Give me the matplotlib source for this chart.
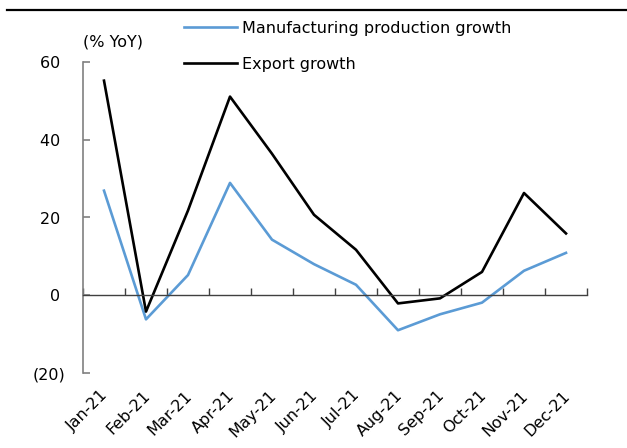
import matplotlib
matplotlib.use("Agg")
import matplotlib.pyplot as plt
from matplotlib.lines import Line2D
import matplotlib.transforms as mtransforms
import numpy as np

months = ["Jan-21", "Feb-21", "Mar-21", "Apr-21", "May-21", "Jun-21",
          "Jul-21", "Aug-21", "Sep-21", "Oct-21", "Nov-21", "Dec-21"]
mfg_growth = [26.9, -6.2, 5.2, 28.9, 14.3, 8.0, 2.7, -9.0, -4.9, -1.9, 6.3, 10.9]
export_growth = [55.2, -4.2, 21.8, 51.1, 36.4, 20.7, 11.7, -2.1, -0.8, 6.0, 26.3, 15.9]
y_ticks = [-20, 0, 20, 40, 60]
y_labels = ["(20)", "0 ", "20 ", "40 ", "60 "]

plt.rcParams['font.family'] = ['DejaVu Sans']
fs = 11.5

W, H = 627, 448
fig = plt.figure(figsize=(W / 100, H / 100), dpi=100)
ax = fig.add_axes([83 / W, 1 - 373 / H, (587 - 83) / W, (373 - 62) / H])

x = np.arange(len(months)) + 0.5
ax.plot(x, mfg_growth, color="#5b9bd5", lw=1.9, label="Manufacturing production growth")
ax.plot(x, export_growth, color="black", lw=1.9, label="Export growth")

ax.set_xlim(0, len(months))
ax.set_ylim(-20, 60)

# axes styling
for s in ["top", "right"]:
    ax.spines[s].set_visible(False)
ax.spines["left"].set_color("#808080")
ax.spines["left"].set_linewidth(1.2)
ax.spines["bottom"].set_position(("data", 0))
ax.spines["bottom"].set_color("#404040")
ax.spines["bottom"].set_linewidth(1.0)

ax.set_yticks(y_ticks)
ax.set_yticklabels(y_labels, fontsize=fs)
ax.tick_params(axis="y", direction="in", length=5, width=1.2, color="#808080", pad=13)

ax.set_xticks(np.arange(len(months) + 1))
ax.set_xticklabels([])
ax.tick_params(axis="x", direction="in", length=5, width=1.0, color="#404040")

# month labels below the plot area
offset = mtransforms.offset_copy(ax.transData, fig=fig, x=2, y=-20, units="dots")
for xi, m in zip(x, months):
    ax.text(xi, -20, m, rotation=45, ha="right", va="center",
            rotation_mode="anchor", fontsize=fs, transform=offset)

fig.text(83 / W, 1 - 42 / H, "(% YoY)", fontsize=fs, va="center", ha="left")

leg = ax.legend(loc="upper left", bbox_to_anchor=(184 / W, 1 - 21 / H),
                bbox_transform=fig.transFigure, frameon=False, fontsize=fs,
                handlelength=3.3, handletextpad=0.35, labelspacing=1.3,
                borderaxespad=0, borderpad=0)

fig.add_artist(Line2D([7 / W, 1], [1 - 10 / H, 1 - 10 / H], color="black", lw=1.6))

fig.savefig("out.png", dpi=100)
